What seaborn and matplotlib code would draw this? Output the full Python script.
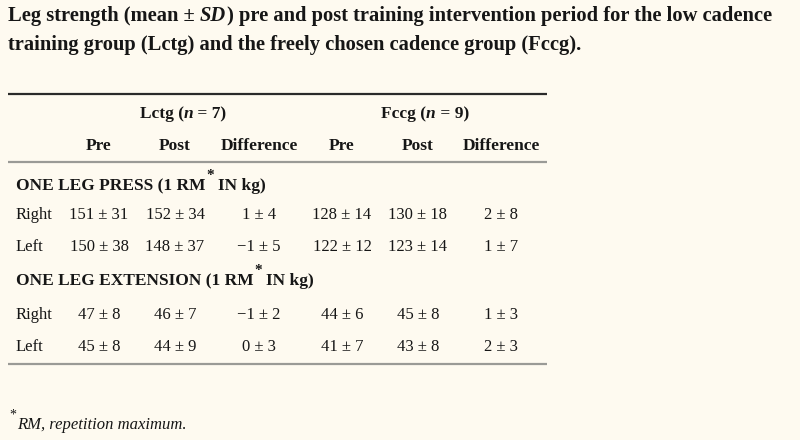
import matplotlib
matplotlib.use("Agg")
import matplotlib.pyplot as plt
import seaborn as sns

# ---------------- data ----------------
title_line1 = "Leg strength (mean \u00b1 SD) pre and post training intervention period for the low cadence"
title_line2 = "training group (Lctg) and the freely chosen cadence group (Fccg)."
groups = ["Lctg", "Fccg"]
group_n = [7, 9]
col_headers = ["Pre", "Post", "Difference", "Pre", "Post", "Difference"]
sections = ["ONE LEG PRESS (1 RM", "ONE LEG EXTENSION (1 RM"]
row_labels = ["Right", "Left"]
press_right = ["151 \u00b1 31", "152 \u00b1 34", "1 \u00b1 4", "128 \u00b1 14", "130 \u00b1 18", "2 \u00b1 8"]
press_left = ["150 \u00b1 38", "148 \u00b1 37", "\u22121 \u00b1 5", "122 \u00b1 12", "123 \u00b1 14", "1 \u00b1 7"]
ext_right = ["47 \u00b1 8", "46 \u00b1 7", "\u22121 \u00b1 2", "44 \u00b1 6", "45 \u00b1 8", "1 \u00b1 3"]
ext_left = ["45 \u00b1 8", "44 \u00b1 9", "0 \u00b1 3", "41 \u00b1 7", "43 \u00b1 8", "2 \u00b1 3"]
footnote = "RM, repetition maximum."

# ---------------- style ----------------
sns.set_theme(style="white")
plt.rcParams["font.family"] = ["Liberation Serif", "DejaVu Serif"]
BG = "#fefaf0"
INK = "#161616"

fig = plt.figure(figsize=(8, 4.4), dpi=100, facecolor=BG)
ax = fig.add_axes([0, 0, 1, 1])
ax.set_facecolor(BG)
ax.set_xlim(0, 800)
ax.set_ylim(440, 0)
ax.axis("off")
fig.canvas.draw()
renderer = fig.canvas.get_renderer()


def runs(x, y, pieces, ha="left", size=12, weight="normal"):
    """Draw text pieces side by side on a common baseline (pixel coordinates)."""
    arts = []
    cursor = x
    for p in pieces:
        if isinstance(p, str):
            p = {"s": p}
        t = ax.text(cursor, y + p.get("dy", 0), p["s"], ha="left", va="baseline",
                    fontsize=p.get("size", size), fontweight=p.get("weight", weight),
                    fontstyle=p.get("style", "normal"), color=INK)
        cursor += t.get_window_extent(renderer).width + p.get("gap", 0)
        arts.append(t)
    total = cursor - x
    if ha != "left":
        shift = total / 2 if ha == "center" else total
        for t in arts:
            tx, ty = t.get_position()
            t.set_position((tx - shift, ty))
    return arts


TITLE_FS = 14.8
BOLD_FS = 12.5
# title
runs(8, 21, [{"s": "Leg strength (mean \u00b1 "}, {"s": "SD", "style": "italic", "gap": 1},
             {"s": ") pre and post training intervention period for the low cadence"}],
     size=TITLE_FS, weight="bold")
runs(8, 50, [title_line2], size=TITLE_FS, weight="bold")

# rules
ax.plot([8, 547], [93.8, 93.8], color="#2a2a2a", lw=1.6, solid_capstyle="butt")
ax.plot([8, 547], [161.6, 161.6], color="#9a9a96", lw=1.6, solid_capstyle="butt")
ax.plot([8, 547], [363.8, 363.8], color="#9a9a96", lw=1.6, solid_capstyle="butt")

# group headers
group_x = [183, 425]
for gx, g, n in zip(group_x, groups, group_n):
    runs(gx, 118, [f"{g} (", {"s": "n", "style": "italic"}, f" = {n})"],
         ha="center", size=BOLD_FS, weight="bold")

# column headers
col_x = [99, 175, 259, 342, 418, 501]
for cx, h in zip(col_x, col_headers):
    ax.text(cx, 150, h, ha="center", va="baseline", fontsize=BOLD_FS, fontweight="bold", color=INK)

# sections
section_rows = [[press_right, press_left], [ext_right, ext_left]]
section_y = [190, 285]
row_y = [[219, 251], [319, 351]]
for sec, sy, rows, rys in zip(sections, section_y, section_rows, row_y):
    runs(16, sy, [{"s": sec, "gap": 1}, {"s": "*", "size": 11, "dy": -11, "gap": 4}, {"s": "IN kg)"}],
         size=BOLD_FS, weight="bold")
    for lab, vals, ry in zip(row_labels, rows, rys):
        ax.text(16, ry, lab, ha="left", va="baseline", fontsize=12, color=INK)
        for cx, v in zip(col_x, vals):
            ax.text(cx, ry, v, ha="center", va="baseline", fontsize=12, color=INK)

# footnote
runs(9, 429, [{"s": "*", "size": 10, "dy": -10, "gap": 1}, {"s": footnote, "style": "italic"}], size=12)

fig.savefig("out.png", dpi=100, facecolor=BG)
